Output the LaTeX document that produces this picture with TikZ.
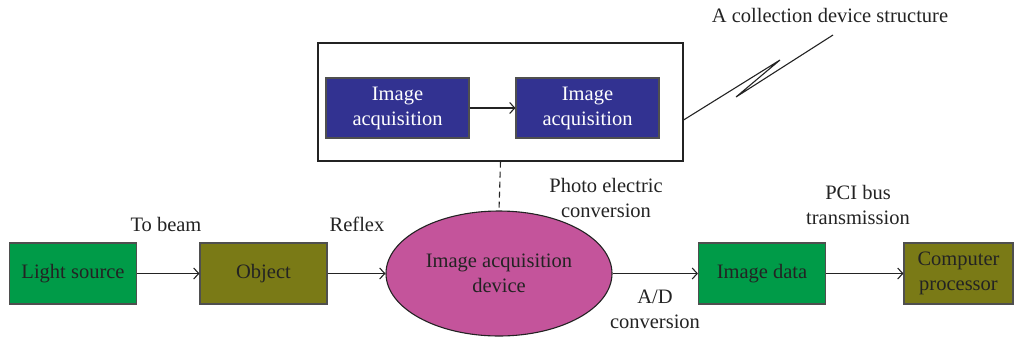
\documentclass[tikz,border=0pt]{standalone}
\usepackage{fontspec}
\setmainfont{Liberation Serif}
\usetikzlibrary{arrows.meta,shapes.geometric}
\definecolor{boxgreen}{RGB}{0,155,72}
\definecolor{boxolive}{RGB}{122,122,22}
\definecolor{devmagenta}{RGB}{196,84,155}
\definecolor{acqnavy}{RGB}{50,50,145}
\definecolor{ink}{RGB}{35,35,35}
\tikzset{
  block/.style={draw=ink!80, line width=1.1pt, minimum width=127pt, minimum height=61pt,
    inner sep=0pt, align=center, text=ink, font=\fontsize{20.5}{25}\selectfont},
  acqbox/.style={block, fill=acqnavy, text=white, minimum width=143pt, minimum height=60pt},
  lbl/.style={align=center, text=ink, font=\fontsize{20.5}{25}\selectfont, inner sep=0pt},
  flow/.style={line width=1.1pt, draw=ink, -{Straight Barb[length=5pt,width=11pt,line width=1.1pt]}},
}
\begin{document}
\begin{tikzpicture}[x=1pt,y=-1pt]
\useasboundingbox (0,0) rectangle (1020,341);

% main chain
\node[block, fill=boxgreen] (light) at (73,273.5) {Light source};
\node[block, fill=boxolive] (object) at (263.5,273.5) {Object};
\node[ellipse, draw=ink, line width=1.1pt, fill=devmagenta, minimum width=226pt,
      minimum height=125pt, inner sep=0pt, align=center, text=ink,
      font=\fontsize{20.5}{25}\selectfont] (device) at (499,273.5) {Image acquisition\\device};
\node[block, fill=boxgreen] (data) at (762,273.5) {Image data};
\node[block, fill=boxolive, minimum width=109pt] (cpu) at (958.5,273.5) {Computer\\processor};

\draw[flow] (light.east) -- (object.west);
\draw[flow] (object.east) -- (device.west);
\draw[flow] (device.east) -- (data.west);
\draw[flow] (data.east) -- (cpu.west);

% collection device structure
\node[draw=ink, line width=1.1pt, minimum width=365pt, minimum height=118pt, inner sep=0pt] (frame) at (500.5,102) {};
\node[acqbox] (acqA) at (397.5,108) {Image\\acquisition};
\node[acqbox] (acqB) at (587.5,108) {Image\\acquisition};
\draw[flow] (acqA.east) -- (acqB.west);
\draw[line width=1.1pt, draw=ink, dash pattern=on 6pt off 4pt] (frame.south) -- (device.north);

% leader line to the caption
\coordinate (leadEnd) at (833,35);
\coordinate (kinkA) at (780,60);
\coordinate (kinkB) at (736,97);
\draw[line width=1.1pt, draw=ink] (frame.east |- 0,120) -- (kinkA) -- (kinkB) -- (leadEnd);

% labels
\node[lbl] (caption) at (830,15) {A collection device structure};
\node[lbl] (tobeam) at (166,224) {To beam};
\node[lbl] (reflex) at (357,224) {Reflex};
\node[lbl] (photo) at (606,198) {Photo electric\\conversion};
\node[lbl] (adconv) at (655,309) {A/D\\conversion};
\node[lbl] (pci) at (858,205) {PCI bus\\transmission};
\end{tikzpicture}
\end{document}
